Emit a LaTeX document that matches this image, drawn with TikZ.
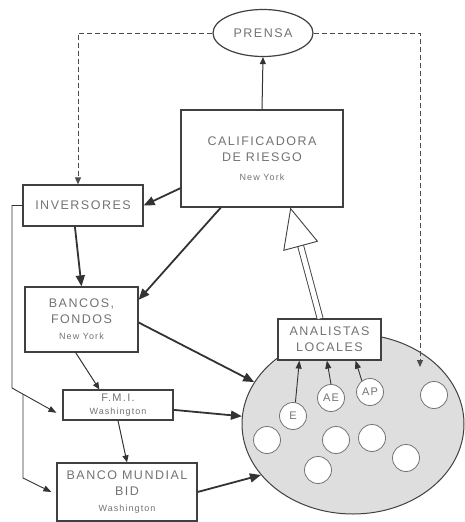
\documentclass[tikz,border=0pt]{standalone}
\usepackage{fontspec}
\setmainfont{Liberation Sans}
\newfontfamily\labfont[LetterSpace=12]{Liberation Sans}
\usetikzlibrary{arrows.meta,shapes.geometric}
\newcommand{\lugar}[1]{{\fontsize{9}{10}\selectfont #1}}

\begin{document}
\begin{tikzpicture}[
    x=1pt,
    y=-1pt,
    entidad/.style={
        draw=black!75,
        line width=1.2pt,
        fill=white,
        align=center,
        inner sep=0pt,
        text=black!55,
        font=\labfont\fontsize{12.5}{16}\selectfont
    },
    nube/.style={
        ellipse,
        draw=black!75,
        line width=1.2pt,
        fill=white,
        inner sep=0pt,
        minimum width=100pt,
        minimum height=47pt,
        text=black!55,
        font=\labfont\fontsize{12.5}{16}\selectfont
    },
    grupo/.style={
        ellipse,
        draw=black!75,
        line width=1pt,
        fill=black!13,
        minimum width=222pt,
        minimum height=180pt
    },
    burbuja/.style={
        circle,
        draw=black!55,
        line width=0.8pt,
        fill=white,
        inner sep=0pt,
        minimum size=27pt,
        text=black!55,
        font=\labfont\fontsize{11}{12}\selectfont
    },
    flow/.style={-{Triangle[length=11pt,width=9pt]}, line width=1.8pt, draw=black!80},
    fino/.style={-{Triangle[length=7pt,width=6pt]}, line width=1pt, draw=black!80},
    guia/.style={-{Triangle[length=8pt,width=6pt]}, line width=0.9pt, draw=black!80},
    punteado/.style={-{Triangle[length=7pt,width=6pt]}, dash pattern=on 5pt off 3pt, line width=0.9pt, draw=black!70},
    hueca/.style={double=white, draw=black!75, line width=0.9pt, double distance=5pt, -{Triangle[open, fill=white, length=40pt, width=36pt]}}
]
\useasboundingbox (0,0) rectangle (465,522);

\node[nube] (prensa) at (263,33) {PRENSA};
\node[entidad, minimum width=162pt, minimum height=97pt] (calif) at (262,158.5) {CALIFICADORA\\DE RIESGO\\[3pt]\lugar{New York}};
\node[entidad, minimum width=120pt, minimum height=41pt] (inversores) at (83,205.5) {INVERSORES};
\node[entidad, minimum width=113pt, minimum height=65pt] (bancos) at (81.5,319.5) {BANCOS,\\FONDOS\\\lugar{New York}};
\node[entidad, minimum width=110pt, minimum height=30pt, font=\labfont\fontsize{11}{13}\selectfont] (fmi) at (118,405) {F.M.I.\\\lugar{Washington}};
\node[entidad, minimum width=140pt, minimum height=58pt] (bm) at (127,492) {BANCO MUNDIAL\\BID\\\lugar{Washington}};

\node[grupo] (mercado) at (353,424) {};
\node[entidad, minimum width=103pt, minimum height=41pt] (analistas) at (329.5,339.5) {ANALISTAS\\LOCALES};

\node[burbuja] (e) at (293,416) {E};
\node[burbuja] (ae) at (331,398) {AE};
\node[burbuja] (ap) at (370,392) {AP};
\foreach \px/\py [count=\i] in {434/395, 267/440, 336/440, 372/438, 406/458, 318/470}
    \node[burbuja] (b\i) at (\px,\py) {};

\coordinate (l1) at (12,205.5);
\coordinate (l2) at (12,388);
\coordinate (l3) at (23,394);
\coordinate (l4) at (23,478);
\coordinate (d1) at (78,33);
\coordinate (d2) at (420,367);

\draw[fino] (calif.north) -- (prensa.south);
\draw[flow] (calif.200) -- (inversores.east);
\draw[flow] (calif.230) -- (bancos.19);
\draw[flow] (inversores.249) -- (bancos.north);
\draw[flow] (bancos.-3) -- (mercado.157);
\draw[fino] (bancos.260) -- (fmi.140);
\draw[flow] (fmi.-5) -- (mercado.176);
\draw[fino] (fmi.south) -- (bm.north);
\draw[flow] (bm.east) -- (mercado.209);

\draw[guia] (inversores.west) -- (l1) -- (l2) -- ([xshift=-6pt]fmi.188);
\draw[guia] (l3) -- (l4) -- ([xshift=-5pt]bm.west);

\draw[punteado] (prensa.west) -- (d1) -- (d1 |- inversores.north);
\draw[punteado] (prensa.east) -| (d2);

\draw[hueca] (analistas.114) -- (calif.-60);

\draw[guia] (e.80) -- (analistas.215);
\draw[guia] (ae.north) -- (analistas.263);
\draw[guia] (ap.126) -- (analistas.321);

\end{tikzpicture}
\end{document}
